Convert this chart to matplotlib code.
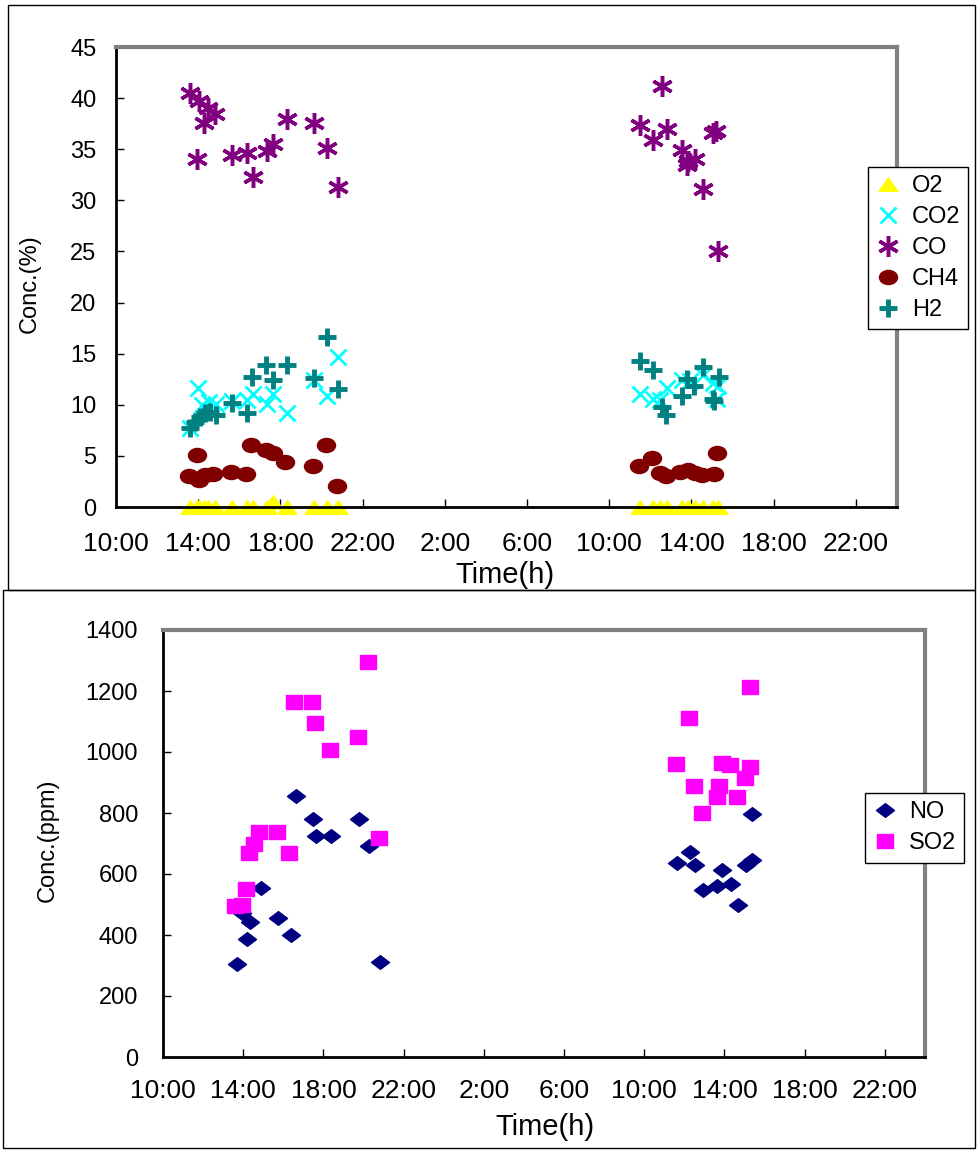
import matplotlib
matplotlib.use('Agg')
import matplotlib.pyplot as plt
from matplotlib.patches import Rectangle
from matplotlib.path import Path
from matplotlib.transforms import Affine2D

# time axis: hours since 10:00 on day 1
tick_hours = [0, 4, 8, 12, 16, 20, 24, 28, 32, 36]
tick_labels = ['10:00', '14:00', '18:00', '22:00', '2:00', '6:00',
               '10:00', '14:00', '18:00', '22:00']

# gas composition (%)
o2_t = [3.6, 3.96, 4.05, 4.27, 4.5, 4.8, 5.63, 6.36, 6.65, 7.33, 7.62, 8.3, 9.63, 10.28, 10.82,
        25.5, 26.15, 26.47, 26.8, 27.53, 27.85, 28.17, 28.55, 29.07, 29.3]
o2 = [0, 0, 0, 0, 0, 0, 0, 0, 0, 0, 0.5, 0, 0, 0, 0,
      0, 0, 0, 0, 0, 0, 0, 0, 0, 0]

co2_t = [3.6, 3.97, 4.17, 4.54, 4.87, 5.63, 6.36, 6.68, 7.33, 7.65, 8.3, 9.63, 10.28, 10.82,
         25.5, 26.15, 26.47, 26.8, 27.53, 27.93, 28.58, 29.07, 29.23, 29.3]
co2 = [7.7, 11.6, 10.0, 10.3, 10.1, 10.4, 10.5, 11.1, 10.1, 11.1, 9.2, 12.4, 10.9, 14.7,
       11.1, 10.6, 10.5, 11.6, 12.4, 12.3, 12.9, 12.1, 10.6, 11.8]

co_t = [3.6, 4.05, 4.5, 4.8, 4.27, 3.96, 5.63, 6.36, 6.65, 7.33, 7.62, 8.3, 9.63, 10.28, 10.82,
        26.55, 25.5, 26.8, 26.15, 27.53, 27.85, 28.17, 27.77, 28.55, 29.07, 29.2, 29.3]
co = [40.5, 39.7, 39.0, 38.4, 37.6, 34.0, 34.4, 34.6, 32.3, 34.8, 35.5, 38.0, 37.6, 35.1, 31.3,
      41.2, 37.4, 37.0, 35.9, 34.9, 33.8, 34.0, 33.5, 31.1, 36.6, 36.8, 25.0]

ch4_t = [3.92, 3.55, 4.05, 4.33, 4.7, 5.58, 6.33, 6.57, 7.3, 7.62, 8.22, 9.6, 10.22, 10.73,
         25.47, 26.1, 26.47, 26.76, 27.45, 27.85, 28.17, 28.5, 29.1, 29.26]
ch4 = [5.1, 3.0, 2.6, 3.1, 3.2, 3.4, 3.2, 6.1, 5.6, 5.3, 4.4, 4.0, 6.1, 2.1,
       4.0, 4.8, 3.3, 3.0, 3.4, 3.6, 3.3, 3.1, 3.2, 5.3]

h2_t = [3.6, 3.84, 4.09, 4.33, 4.57, 4.87, 5.63, 6.36, 6.6, 7.3, 7.65, 8.3, 9.63, 10.28, 10.82,
        25.5, 26.15, 26.55, 26.76, 27.53, 27.77, 28.1, 28.55, 29.07, 29.12, 29.36]
h2 = [7.7, 8.3, 8.8, 9.2, 9.3, 9.0, 10.2, 9.2, 12.7, 13.9, 12.4, 13.9, 12.6, 16.6, 11.5,
      14.3, 13.4, 9.8, 9.0, 10.9, 12.5, 11.8, 13.7, 10.6, 10.4, 12.7]

# NO / SO2 (ppm)
no_t = [3.7, 3.93, 4.2, 4.34, 4.87, 5.72, 6.37, 6.62, 7.5, 7.62, 8.38, 9.78, 10.27, 10.82,
        29.36, 26.28, 25.65, 26.53, 29.36, 29.06, 27.9, 26.92, 27.65, 28.33, 28.69]
no = [304, 471, 387, 444, 553, 457, 400, 857, 780, 726, 726, 780, 693, 310,
      796, 671, 637, 630, 646, 630, 613, 548, 561, 567, 498]

so2_t = [3.59, 3.93, 4.14, 4.29, 4.54, 4.79, 5.67, 6.3, 6.55, 7.42, 7.58, 8.33, 9.71, 10.24, 10.76,
         29.28, 26.23, 25.59, 27.86, 28.28, 29.28, 29.03, 26.48, 27.73, 27.65, 28.61, 26.87]
so2 = [496, 498, 550, 668, 697, 737, 737, 668, 1165, 1165, 1096, 1007, 1048, 1296, 717,
       1214, 1110, 960, 965, 957, 952, 916, 890, 890, 853, 853, 799]

plt.rcParams['font.family'] = ['Liberation Sans', 'DejaVu Sans']


def closed(pts):
    codes = [Path.MOVETO] + [Path.LINETO] * (len(pts) - 1) + [Path.CLOSEPOLY]
    return Path(pts + [pts[0]], codes)


# slightly flattened marker shapes, as in the original
ellipse = Path.unit_circle().transformed(Affine2D().scale(1, 0.78))
flat_triangle = closed([(0, 0.72), (-1, -0.72), (1, -0.72)])
flat_diamond = closed([(-1, 0), (0, 0.76), (1, 0), (0, -0.76)])
flat_square = closed([(-1, -0.85), (1, -0.85), (1, 0.85), (-1, 0.85)])

fig = plt.figure(figsize=(9.78, 11.5), dpi=100)

# panel frames
fig.add_artist(Rectangle((8 / 978, 1 - 590 / 1150), 967 / 978, 585 / 1150,
                         transform=fig.transFigure, fill=False, edgecolor='black', linewidth=1))
fig.add_artist(Rectangle((3 / 978, 1 - 1148 / 1150), 972 / 978, 558 / 1150,
                         transform=fig.transFigure, fill=False, edgecolor='black', linewidth=1))


def style_axes(ax, ylim, yticks, ypad, xpad):
    ax.set_xlim(0, 38)
    ax.set_ylim(*ylim)
    ax.set_xticks(tick_hours, labels=tick_labels)
    ax.set_yticks(yticks)
    ax.tick_params(axis='both', direction='in', length=6, width=1, color='black')
    ax.tick_params(axis='y', pad=ypad, labelsize=17)
    ax.tick_params(axis='x', pad=xpad, labelsize=19)
    ax.spines['left'].set_color('black')
    ax.spines['bottom'].set_color('black')
    ax.spines['left'].set_linewidth(2)
    ax.spines['bottom'].set_linewidth(2)
    ax.spines['top'].set_color('#808080')
    ax.spines['right'].set_color('#808080')
    ax.spines['top'].set_linewidth(3)
    ax.spines['right'].set_linewidth(3)


# top panel
ax1 = fig.add_axes([116 / 978, 1 - 507 / 1150, 781 / 978, 460 / 1150])
ax1.plot(o2_t, o2, linestyle='none', marker=flat_triangle, markersize=13.5, color='#FFFF00',
         label='O2', clip_on=False)
ax1.plot(co2_t, co2, linestyle='none', marker='x', markersize=12, markeredgewidth=2,
         color='#00FFFF', label='CO2')
ax1.plot(co_t, co, linestyle='none', marker=(6, 2, 0), markersize=15, markeredgewidth=2.5,
         color='#800080', label='CO')
ax1.plot(ch4_t, ch4, linestyle='none', marker=ellipse, markersize=13, color='#800000',
         label='CH4')
ax1.plot(h2_t, h2, linestyle='none', marker='+', markersize=13, markeredgewidth=3.5,
         color='#008080', label='H2')
style_axes(ax1, (0, 45), range(0, 50, 5), 14, 18)

fig.text(30 / 978, 1 - 284 / 1150, 'Conc.(%)', rotation=90, ha='center', va='center',
         fontsize=17)
fig.text(505 / 978, 1 - 575 / 1150, 'Time(h)', ha='center', va='center', fontsize=21)

leg1 = fig.legend(handles=ax1.get_lines(), loc='upper left',
                  bbox_to_anchor=(868 / 978, 1 - 167 / 1150), borderaxespad=0,
                  prop={'size': 17}, frameon=True, fancybox=False,
                  edgecolor='black', framealpha=1, handlelength=1.0, handletextpad=0.5,
                  labelspacing=0.38, borderpad=0.35)
leg1.get_frame().set_linewidth(1)

# bottom panel
ax2 = fig.add_axes([163 / 978, 1 - 1057 / 1150, 762 / 978, 427 / 1150])
ax2.plot(no_t, no, linestyle='none', marker=flat_diamond, markersize=13, color='#000080',
         label='NO')
ax2.plot(so2_t, so2, linestyle='none', marker=flat_square, markersize=11.5, color='#FF00FF',
         label='SO2')
style_axes(ax2, (0, 1400), range(0, 1600, 200), 18, 16)

fig.text(48 / 978, 1 - 840 / 1150, 'Conc.(ppm)', rotation=90, ha='center', va='center',
         fontsize=17)
fig.text(545 / 978, 1 - 1127 / 1150, 'Time(h)', ha='center', va='center', fontsize=21)

leg2 = fig.legend(handles=ax2.get_lines(), loc='upper left',
                  bbox_to_anchor=(865 / 978, 1 - 793 / 1150), borderaxespad=0,
                  prop={'size': 17}, frameon=True, fancybox=False,
                  edgecolor='black', framealpha=1, handlelength=1.0, handletextpad=0.5,
                  labelspacing=0.38, borderpad=0.35)
leg2.get_frame().set_linewidth(1)

fig.savefig('out.png', dpi=100)
